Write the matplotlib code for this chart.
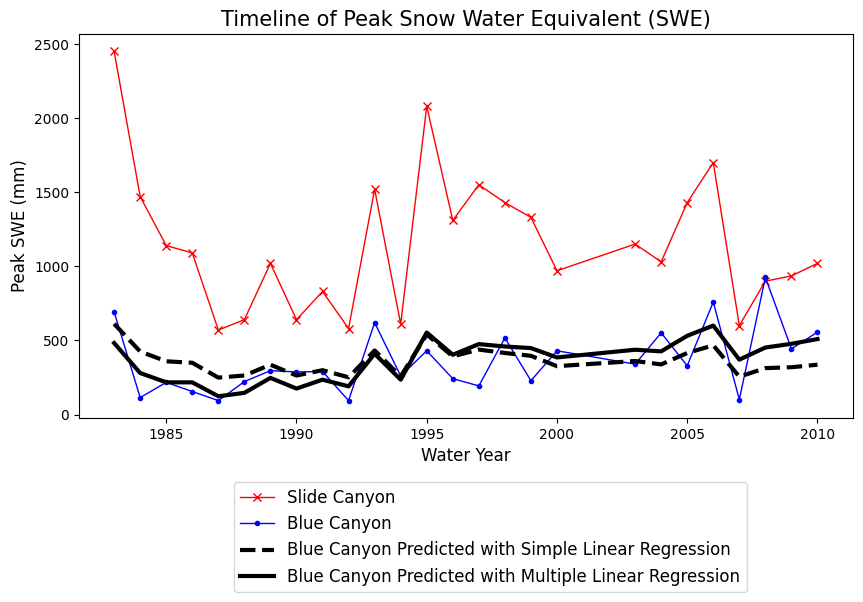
import numpy as np
import matplotlib.pyplot as plt

# water years (2001 and 2002 missing)
years = [1983, 1984, 1985, 1986, 1987, 1988, 1989, 1990, 1991, 1992, 1993, 1994, 1995,
         1996, 1997, 1998, 1999, 2000, 2003, 2004, 2005, 2006, 2007, 2008, 2009, 2010]

# peak SWE (mm)
slide = [2450, 1470, 1140, 1090, 570, 640, 1020, 640, 830, 580, 1520, 610, 2080,
         1310, 1550, 1430, 1330, 970, 1150, 1030, 1430, 1700, 600, 900, 935, 1020]
blue = [692, 114, 217, 155, 94, 222, 296, 287, 290, 94, 620, 260, 430,
        242, 193, 517, 228, 430, 340, 551, 329, 759, 101, 925, 443, 556]
pred_simple = [612, 425, 359, 349, 249, 263, 336, 263, 299, 251, 432, 257, 540,
               392, 438, 415, 396, 326, 361, 338, 415, 467, 255, 313, 319, 336]
pred_multi = [482, 280, 217, 217, 123, 146, 247, 175, 235, 190, 410, 235, 553,
              403, 475, 459, 448, 385, 437, 426, 531, 600, 370, 452, 477, 509]

fig = plt.figure(figsize=(8.63, 6.02), dpi=100)
ax = fig.add_axes([0.0915, 0.3056, 0.8965, 0.638])

ax.plot(years, slide, color='red', marker='x', linewidth=1, label='Slide Canyon')
ax.plot(years, blue, color='blue', marker='.', linewidth=1, label='Blue Canyon')
ax.plot(years, pred_simple, color='black', linestyle='--', linewidth=3,
        label='Blue Canyon Predicted with Simple Linear Regression')
ax.plot(years, pred_multi, color='black', linestyle='-', linewidth=3,
        label='Blue Canyon Predicted with Multiple Linear Regression')

ax.set_title('Timeline of Peak Snow Water Equivalent (SWE)', fontsize=15)
ax.set_xlabel('Water Year', fontsize=12)
ax.set_ylabel('Peak SWE (mm)', fontsize=12)

fig.legend(loc='upper center', bbox_to_anchor=(0.568, 0.213), fontsize=12)

fig.savefig('out.png', dpi=100)
